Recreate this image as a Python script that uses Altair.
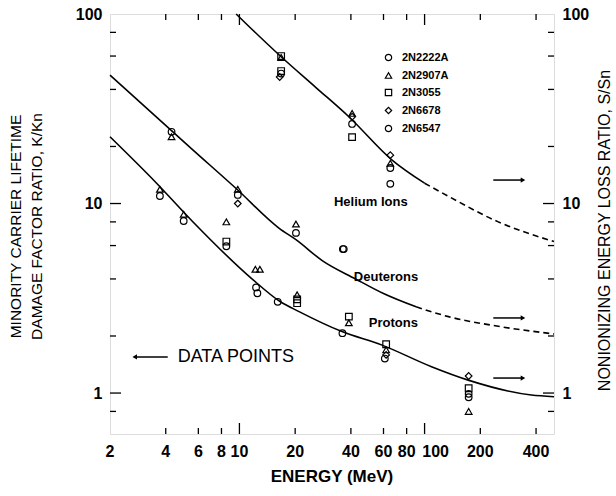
import altair as alt
import pandas as pd

FONT = "Liberation Sans"
W, H = 444, 420

# ---------------- data ----------------
devices = ["2N2222A", "2N2907A", "2N3055", "2N6678", "2N6547"]
shapes = ["circle", "triangle-up", "square", "diamond", "circle"]

pt_energy = [
    # protons
    3.72, 3.72, 5.0, 5.0, 8.5, 8.5, 8.5, 12.2, 12.9, 12.3, 12.5, 16.1,
    20.5, 20.5, 20.5, 36.0, 39.0, 39.0, 62.0, 62.0, 62.0, 61.0,
    173, 173, 173, 173, 173,
    # deuterons
    4.3, 4.3, 9.8, 9.8, 9.8, 20.2, 20.2, 36.2, 36.6,
    # helium ions
    16.8, 16.8, 16.8, 16.8, 16.5, 40.6, 40.6, 40.6, 40.6, 65.3, 65.3, 65.3, 65.3,
]
pt_ratio = [
    11.9, 10.96, 8.77, 8.09, 8.0, 6.3, 5.95, 4.5, 4.5, 3.61, 3.36, 3.03,
    3.3, 3.12, 2.98, 2.07, 2.53, 2.35, 1.81, 1.69, 1.59, 1.52,
    1.23, 1.06, 0.99, 0.95, 0.80,
    23.9, 22.5, 11.9, 11.1, 10.0, 7.8, 7.0, 5.75, 5.75,
    60.0, 59.0, 50.0, 48.5, 46.5, 29.9, 28.7, 26.3, 22.4, 18.0, 16.3, 15.4, 12.7,
]
pt_device = [
    "2N2907A", "2N2222A", "2N2907A", "2N2222A", "2N2907A", "2N3055", "2N2222A",
    "2N2907A", "2N2907A", "2N2222A", "2N6547", "2N2222A",
    "2N2907A", "2N3055", "2N3055", "2N2222A", "2N3055", "2N2907A",
    "2N3055", "2N2907A", "2N6678", "2N2222A",
    "2N6678", "2N3055", "2N2222A", "2N6547", "2N2907A",
    "2N2222A", "2N2907A", "2N2907A", "2N2222A", "2N6678", "2N2907A", "2N2222A",
    "2N2222A", "2N6547",
    "2N3055", "2N2907A", "2N3055", "2N2222A", "2N6678",
    "2N2907A", "2N6678", "2N2222A", "2N3055",
    "2N6678", "2N2907A", "2N2222A", "2N6547",
]

# curves (right axis, nonionizing energy loss ratio)
he_solid_E = [9.6, 11.3, 16.8, 26, 39, 66.5, 100]
he_solid_v = [100, 85.7, 59.5, 40.8, 28.7, 17.0, 12.8]
he_dash_E = [100, 135, 250, 500]
he_dash_v = [12.8, 10.9, 8.0, 6.3]

de_solid_E = [2, 5.6, 9.6, 16.4, 20.2, 28, 42.4, 60, 90]
de_solid_v = [47.6, 19.2, 12.0, 7.4, 6.45, 5.0, 4.0, 3.35, 2.85]
de_dash_E = [90, 134.6, 250, 500]
de_dash_v = [2.85, 2.53, 2.25, 2.05]

pr_E = [2, 3.57, 5.6, 11.6, 16.5, 21, 35.8, 58.9, 109, 172, 377, 500]
pr_v = [22.5, 12.8, 8.02, 4.03, 3.05, 2.69, 2.11, 1.79, 1.377, 1.17, 0.976, 0.956]

# annotations
ann_text = ["Helium Ions", "Deuterons", "Protons"]
ann_E = [32.4, 41.5, 50.0]
ann_v = [10.2, 4.09, 2.34]

dp_text = ["DATA POINTS"]
dp_E = [4.64]
dp_v = [1.55]

arrow_v = [13.3, 2.49, 1.2]
arrow_E0, arrow_E1 = 235, 340
left_arrow_E0, left_arrow_E1 = 2.72, 4.10

x_title = "ENERGY (MeV)"
x_labels = [2, 4, 6, 8, 10, 20, 40, 60, 80, 200, 400]
x_label_shifted = [100]          # printed slightly right of its tick in the original
x_major = [10, 100]
x_minor = [4, 6, 8, 20, 40, 60, 80, 200, 400]
y_labels = [1, 10, 100]
y_major = [1, 10]
y_minor = [0.8, 2, 4, 6, 8, 20, 40, 60, 80]

# ---------------- chart ----------------
xs = alt.Scale(type="log", domain=[2, 500], nice=False)
ys = alt.Scale(type="log", domain=[0.608, 100], nice=False)

left_axis = alt.Axis(
    orient="left", values=y_labels, format="d", tickSize=0, domain=False, grid=False,
    labelFontSize=16, labelFont=FONT, labelFontWeight="bold", labelColor="black",
    labelPadding=8, labelFlush=False,
    title=["MINORITY CARRIER LIFETIME", "DAMAGE FACTOR RATIO, K/Kn"],
    titleFont=FONT, titleFontSize=15.5, titleFontWeight="normal",
    titleColor="black", titleAngle=270, titleX=-102, titleY=212,
    titleBaseline="top", titleAlign="center", titleLineHeight=21)

right_axis = alt.Axis(
    orient="right", values=y_labels, format="d", tickSize=0, domain=False,
    grid=False, labelFontSize=16, labelFont=FONT, labelFontWeight="bold",
    labelColor="black", labelPadding=8, labelFlush=False,
    title="NONIONIZING ENERGY LOSS RATIO, S/Sn", titleFont=FONT,
    titleFontSize=16, titleFontWeight="normal", titleColor="black",
    titleAngle=270, titleX=50, titleY=216, titleBaseline="middle",
    titleAlign="center")

pts_df = pd.DataFrame({"E": pt_energy, "v": pt_ratio, "device": pt_device})

points = alt.Chart(pts_df).mark_point(
    filled=False, color="black", strokeWidth=1.2, size=44, opacity=1
).encode(
    x=alt.X("E:Q", scale=xs, axis=None),
    y=alt.Y("v:Q", scale=ys, axis=left_axis),
    shape=alt.Shape("device:N", scale=alt.Scale(domain=devices, range=shapes),
                    legend=alt.Legend(
                        title=None, orient="none", legendX=273, legendY=38,
                        labelFont=FONT, labelFontSize=11, labelFontWeight="bold",
                        labelColor="black", symbolSize=40, symbolStrokeWidth=1.2,
                        symbolStrokeColor="black", rowPadding=5, labelOffset=8,
                        padding=0)),
)

curve_rows = []
for name, E, v, seg in [
    ("he", he_solid_E, he_solid_v, "solid"),
    ("he", he_dash_E, he_dash_v, "dash"),
    ("de", de_solid_E, de_solid_v, "solid"),
    ("de", de_dash_E, de_dash_v, "dash"),
    ("pr", pr_E, pr_v, "solid"),
]:
    for e, val in zip(E, v):
        curve_rows.append({"E": e, "v": val, "curve": name + seg, "seg": seg})
curve_df = pd.DataFrame(curve_rows)

solid = alt.Chart(curve_df).transform_filter(alt.datum.seg == "solid").mark_line(
    color="black", strokeWidth=1.6, interpolate="monotone"
).encode(
    x=alt.X("E:Q", scale=xs, axis=None),
    y=alt.Y("v:Q", scale=ys, axis=None),
    detail="curve:N", order="E:Q",
)
dashed = alt.Chart(curve_df).transform_filter(alt.datum.seg == "dash").mark_line(
    color="black", strokeWidth=1.6, interpolate="monotone", strokeDash=[6, 4]
).encode(
    x=alt.X("E:Q", scale=xs, axis=None),
    y=alt.Y("v:Q", scale=ys, axis=None),
    detail="curve:N", order="E:Q",
)

ann = alt.Chart(pd.DataFrame({"E": ann_E, "v": ann_v, "t": ann_text})).mark_text(
    font=FONT, fontSize=13, fontWeight="bold", align="left", baseline="middle",
    color="black"
).encode(x=alt.X("E:Q", scale=xs, axis=None), y=alt.Y("v:Q", scale=ys, axis=None), text="t:N")

dp = alt.Chart(pd.DataFrame({"E": dp_E, "v": dp_v, "t": dp_text})).mark_text(
    font=FONT, fontSize=18, align="left", baseline="middle", color="black"
).encode(x=alt.X("E:Q", scale=xs, axis=None), y=alt.Y("v:Q", scale=ys, axis=None), text="t:N")

arr_df = pd.DataFrame({"E0": [arrow_E0] * 3, "E1": [arrow_E1] * 3, "v": arrow_v})
arr_lines = alt.Chart(arr_df).mark_rule(color="black", strokeWidth=1.5).encode(
    x=alt.X("E0:Q", scale=xs, axis=None), x2="E1:Q",
    y=alt.Y("v:Q", scale=ys, axis=None))
arr_heads = alt.Chart(arr_df).mark_point(
    shape="triangle-right", filled=True, color="black", size=28, opacity=1
).encode(x=alt.X("E1:Q", scale=xs, axis=None), y=alt.Y("v:Q", scale=ys, axis=None))

larr_df = pd.DataFrame({"E0": [left_arrow_E0], "E1": [left_arrow_E1], "v": dp_v})
larr_line = alt.Chart(larr_df).mark_rule(color="black", strokeWidth=1.5).encode(
    x=alt.X("E0:Q", scale=xs, axis=None), x2="E1:Q",
    y=alt.Y("v:Q", scale=ys, axis=None))
larr_head = alt.Chart(larr_df).mark_point(
    shape="triangle-left", filled=True, color="black", size=28, opacity=1
).encode(x=alt.X("E0:Q", scale=xs, axis=None), y=alt.Y("v:Q", scale=ys, axis=None))

# bottom axis labels and title, drawn as text through the x scale
xlab = alt.Chart(pd.DataFrame({"E": x_labels})).mark_text(
    font=FONT, fontSize=16, fontWeight="bold", align="center", baseline="top",
    color="black"
).encode(x=alt.X("E:Q", scale=xs, axis=None), y=alt.value(H + 10),
         text=alt.Text("E:Q", format="d"))
xlab100 = alt.Chart(pd.DataFrame({"E": x_label_shifted})).mark_text(
    font=FONT, fontSize=16, fontWeight="bold", align="center", baseline="top",
    color="black", dx=11
).encode(x=alt.X("E:Q", scale=xs, axis=None), y=alt.value(H + 10),
         text=alt.Text("E:Q", format="d"))
xtit = alt.Chart(pd.DataFrame({"t": [x_title]})).mark_text(
    font=FONT, fontSize=17, fontWeight="bold", align="center", baseline="middle",
    color="black"
).encode(x=alt.value(W / 2), y=alt.value(H + 43), text="t:N")


def xtick_layer(vals, y0, y1):
    return alt.Chart(pd.DataFrame({"E": vals})).mark_rule(
        color="black", strokeWidth=1.3).encode(
        x=alt.X("E:Q", scale=xs, axis=None), y=alt.value(y0), y2=alt.value(y1))


def ytick_layer(vals, x0, x1, axis=None):
    return alt.Chart(pd.DataFrame({"v": vals})).mark_rule(
        color="black", strokeWidth=1.3).encode(
        y=alt.Y("v:Q", scale=ys, axis=axis), x=alt.value(x0), x2=alt.value(x1))


ticks = [
    xtick_layer(x_major, H, H - 11), xtick_layer(x_minor, H, H - 6),
    xtick_layer(x_major, 0, 11), xtick_layer(x_minor, 0, 6),
    ytick_layer(y_major, 0, 11), ytick_layer(y_minor, 0, 6),
    ytick_layer(y_major, W, W - 11, axis=right_axis), ytick_layer(y_minor, W, W - 6),
]

layers = alt.layer(points, solid, dashed, ann, dp, arr_lines, arr_heads,
                   larr_line, larr_head, xlab, xlab100, xtit, *ticks)

chart = layers.resolve_axis(y="independent").properties(
    width=W, height=H,
    padding={"left": 110, "top": 14, "right": 62, "bottom": 62},
    autosize=alt.AutoSizeParams(type="none"),
).configure_view(stroke="black", strokeWidth=1.6).configure(background="white")

chart.save("out.html", embed_options={"renderer": "svg", "actions": False})
